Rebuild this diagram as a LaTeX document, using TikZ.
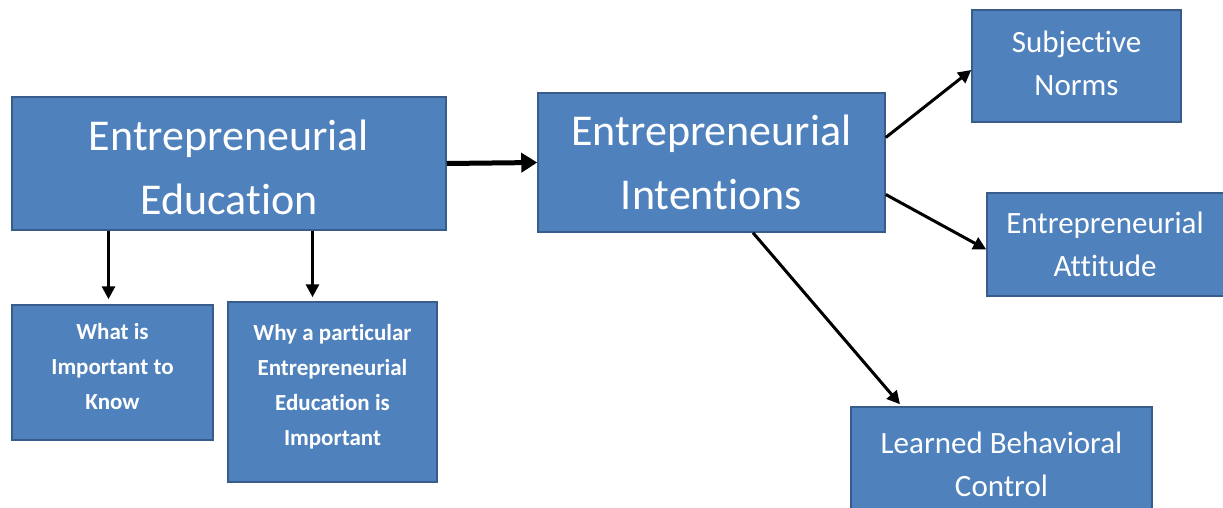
\documentclass[tikz,border=0pt]{standalone}
\usepackage{fontspec}
\setmainfont{Carlito}[Ligatures=NoCommon]
\usepackage{tikz}
\usetikzlibrary{arrows.meta}

\definecolor{boxfill}{HTML}{4F81BD}
\definecolor{boxline}{HTML}{385D8A}

\tikzset{
  box/.style={draw=boxline, fill=boxfill, line width=1.5pt, text=white,
    align=center, inner sep=0pt},
  bigbox/.style={box, font=\fontsize{44}{64}\selectfont},
  midbox/.style={box, font=\fontsize{31}{43}\selectfont},
  smallbox/.style={box, font=\bfseries\fontsize{23}{35}\selectfont},
  arr/.style={-{Triangle[length=13pt,width=13pt]}, line width=3pt},
  fatarr/.style={-{Triangle[length=16pt,width=19pt]}, line width=5pt},
}

\begin{document}
\begin{tikzpicture}[x=1pt,y=-1pt]
  \useasboundingbox (0,0) rectangle (1223,508);

  % left part
  \node[bigbox, minimum width=434pt, minimum height=133pt] (edu) at (229,163.5)
    {Entrepreneurial\\Education\\[-72pt]};
  \node[smallbox, minimum width=201pt, minimum height=135pt] (know) at (112.5,372.5)
    {What is\\Important to\\Know\\[-22pt]};
  \node[smallbox, minimum width=209pt, minimum height=180pt] (why) at (332.5,392)
    {Why a particular\\Entrepreneurial\\Education is\\Important\\[-21pt]};

  % right part
  \node[bigbox, minimum width=347pt, minimum height=139pt] (intent) at (711.5,162.5)
    {Entrepreneurial\\Intentions};
  \node[midbox, minimum width=209pt, minimum height=112pt] (norms) at (1076.5,66)
    {Subjective\\Norms\\[-37pt]};
  \node[midbox, minimum width=246pt, minimum height=103pt] (attit) at (1110,244.5)
    {\hspace*{-10pt}Entrepreneurial\\\hspace*{-10pt}Attitude};
  \node[midbox, minimum width=301pt, minimum height=114pt] (learn) at (1001.5,464)
    {Learned Behavioral\\Control};

  \path[fatarr] (edu.east) edge (intent.west);
  \path[arr] ([xshift=-4pt]know.north |- edu.south) edge ([xshift=-4pt,yshift=5pt]know.north);
  \path[arr] ([xshift=-20pt]why.north |- edu.south) edge ([xshift=-20pt,yshift=4pt]why.north);

  \path[arr] ([yshift=25pt]intent.east) edge ([yshift=-4pt]norms.west);
  \path[arr] ([yshift=-32pt]intent.east) edge ([yshift=-5pt]attit.west);
  \path[arr] ([xshift=41.5pt]intent.south) edge ([xshift=-101.5pt,yshift=2pt]learn.north);
\end{tikzpicture}
\end{document}
